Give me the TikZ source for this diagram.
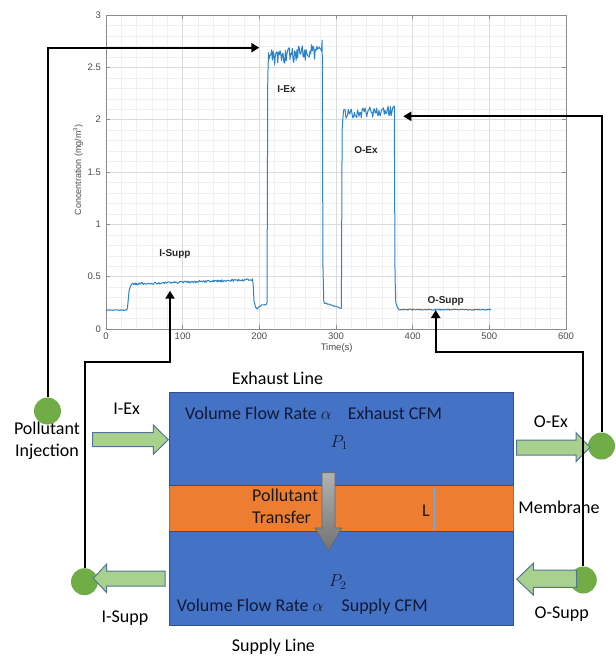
\documentclass[tikz,border=0pt]{standalone}
\usepackage{fontspec}
\setmainfont{Carlito}
\newfontfamily\plotfont{Liberation Sans}
\usetikzlibrary{arrows.meta}
\definecolor{boxblue}{RGB}{68,114,196}
\definecolor{boxblueedge}{RGB}{47,82,143}
\definecolor{memorange}{RGB}{237,125,49}
\definecolor{memedge}{RGB}{200,100,40}
\definecolor{garrowfill}{RGB}{169,209,142}
\definecolor{garrowedge}{RGB}{84,118,150}
\definecolor{dotgreen}{RGB}{112,173,71}
\definecolor{curveblue}{RGB}{45,130,200}
\definecolor{navytext}{RGB}{16,26,56}
\definecolor{lblue}{RGB}{120,170,225}
\begin{document}
\begin{tikzpicture}[x=1pt,y=-1pt,
  lbl/.style={font=\fontsize{18}{22}\selectfont, inner sep=0pt},
  inlbl/.style={lbl, text=navytext},
  conn/.style={line width=2pt, -{Triangle[length=8pt,width=9pt]}},
  dot/.style={circle, fill=dotgreen, minimum size=27pt, inner sep=0pt},
  garrow/.style={fill=garrowfill, draw=garrowedge, line width=1pt},
  minorgrid/.style={draw=black!6, line width=0.4pt},
  majorgrid/.style={draw=black!14, line width=0.5pt},
  axisframe/.style={draw=black!45, line width=0.6pt},
  ticklbl/.style={font=\plotfont\fontsize{9.5}{11}\selectfont, text=black!70, inner sep=0pt},
  peaklbl/.style={font=\plotfont\bfseries\fontsize{10}{12}\selectfont, text=black!85, inner sep=0pt},
  curve/.style={draw=curveblue, line width=1pt, line join=round},
  Larrow/.style={draw=lblue, line width=0.8pt, {Stealth[length=4pt,width=4pt]}-{Stealth[length=4pt,width=4pt]}}
]
\useasboundingbox (0,0) rectangle (616,657);
\fill[white] (0,0) rectangle (616,657);

% ---------------- plot ----------------
\pgfmathsetseed{7}
\begin{scope}[shift={(106,329)}, x=0.76667pt, y=104.67pt]
  \foreach \t in {20,40,...,580} \draw[minorgrid] (\t,0) -- (\t,3);
  \foreach \v in {1,...,29} \draw[minorgrid] (0,\v/10) -- (600,\v/10);
  \foreach \t in {100,200,...,500} \draw[majorgrid] (\t,0) -- (\t,3);
  \foreach \v in {0.5,1,1.5,2,2.5} \draw[majorgrid] (0,\v) -- (600,\v);
  \foreach \t in {100,200,...,500} {
    \draw[axisframe] (\t,0) -- ([yshift=4pt]\t,0);
    \draw[axisframe] (\t,3) -- ([yshift=-4pt]\t,3);
  }
  \foreach \v in {0.5,1,1.5,2,2.5} {
    \draw[axisframe] (0,\v) -- ([xshift=4pt]0,\v);
    \draw[axisframe] (600,\v) -- ([xshift=-4pt]600,\v);
  }
  \draw[axisframe] (0,0) rectangle (600,3);
  \foreach \v/\s [count=\i] in {0/0,0.5/0.5,1/1,1.5/1.5,2/2,2.5/2.5,3/3}
    \node[ticklbl, anchor=east] (ytick\i) at ([xshift=-5pt]0,\v) {\s};
  \foreach \t [count=\i] in {0,100,...,600}
    \node[ticklbl, anchor=north] (xtick\i) at ([yshift=-4pt]\t,0) {\t};
  \node[ticklbl] (xlabel) at ([yshift=-19pt]300.9,0) {Time(s)};
  \node[ticklbl, rotate=90, font=\plotfont\fontsize{9}{10}\selectfont] (ylabel) at ([xshift=-28pt]0,1.52) {Concentration (mg/m\textsuperscript{3})};

  \draw[curve] plot[domain=0:27,samples=28] (\x,{0.18+0.004*rand})
    -- (28,0.2) -- (30,0.36) -- (32,0.41)
    -- plot[domain=34:190,samples=157] (\x,{0.43+0.04*(\x-34)/156+0.01*rand})
    -- (191,0.48) -- (192,0.42) -- (193,0.27) -- (195,0.21) -- (197,0.19) -- (199,0.21) -- (202,0.22)
    -- plot[domain=203:209,samples=7] (\x,{0.23+0.004*rand})
    -- (210,0.25) -- (211,2.4) -- (212,2.64)
    -- plot[domain=213:281,samples=69] (\x,{2.59+0.07*(\x-213)/68+0.08*rand})
    -- (282,2.76) -- (283,0.6) -- (284,0.27)
    -- plot[domain=285:306,samples=22] (\x,{0.25-0.05*(\x-285)/21+0.006*rand})
    -- (307,0.2) -- (308,1.9) -- (309,2.02)
    -- plot[domain=310:375,samples=66] (\x,{2.05+0.04*(\x-310)/65+0.05*rand})
    -- (376,2.13) -- (377,0.5) -- (378,0.25) -- (380,0.21)
    -- plot[domain=382:502,samples=121] (\x,{0.185+0.005*rand});

  \node[peaklbl] (pIEx) at (235.4,2.29) {I-Ex};
  \node[peaklbl] (pOEx) at (339.1,1.71) {O-Ex};
  \node[peaklbl] (pISupp) at (90,0.714) {I-Supp};
  \node[peaklbl] (pOSupp) at (443.1,0.268) {O-Supp};
\end{scope}

% ---------------- duct diagram ----------------
\filldraw[fill=memorange, draw=memedge, line width=0.6pt] (169,485.7) rectangle (513,531.7);
\filldraw[fill=boxblue, draw=boxblueedge, line width=0.8pt] (169,392.7) rectangle (513,485.7);
\filldraw[fill=boxblue, draw=boxblueedge, line width=0.8pt] (169,531.7) rectangle (513,625);

\shade[top color=black!30, bottom color=black!55, draw=black!60, line width=0.6pt]
  (322,472.7) -- (335,472.7) -- (335,528) -- (341.7,528) -- (328.5,550.7) -- (315,528) -- (322,528) -- cycle;

\coordinate (Ltop) at (434.3,487.5);
\coordinate (Lbot) at (434.3,530.5);
\draw[Larrow] (Ltop) -- (Lbot);

\node[lbl, anchor=base west] (exhline) at (231.7,384) {Exhaust Line};
\node[lbl, anchor=base west] (supline) at (231.7,651) {Supply Line};
\node[inlbl, anchor=base west] (exhflow) at (185,419.5) {Volume Flow Rate $\alpha$\hspace{16pt}Exhaust CFM};
\node[inlbl, anchor=base west] (supflow) at (176.7,611.5) {Volume Flow Rate $\alpha$\hspace{18pt}Supply CFM};
\node[inlbl, anchor=base west, font=\fontsize{17}{20}\selectfont] (p1) at (330.5,447) {$P_1$};
\node[inlbl, anchor=base west, font=\fontsize{17}{20}\selectfont] (p2) at (329,586.5) {$P_2$};
\node[lbl, text=black!90, align=left, anchor=north west] (transfer) at (252,488.5) {Pollutant\\Transfer};
\node[lbl, text=black!90, anchor=base] (Llbl) at (426,516.7) {L};
\node[lbl, anchor=base] (membrane) at (559,513.3) {Membrane};

\node[lbl, anchor=base] (iexlbl) at (126.7,414) {I-Ex};
\node[lbl, anchor=base] (oexlbl) at (551,427) {O-Ex};
\node[lbl, anchor=base] (isupplbl) at (125,622) {I-Supp};
\node[lbl, anchor=base] (osupplbl) at (561.7,618.3) {O-Supp};
\node[lbl, align=center] (pinjlbl) at (47,441) {Pollutant\\Injection};

% green dots
\node[dot] (pinj) at (47.5,411) {};
\node[dot] (oexdot) at (601.5,446) {};
\node[dot] (isdot) at (84.5,581.7) {};
\node[dot] (osdot) at (583.3,580) {};

% block arrows
\draw[garrow] (92.7,432.7) -- (153.3,432.7) -- (153.3,425) -- (168.3,439.7) -- (153.3,454.3) -- (153.3,446.7) -- (92.7,446.7) -- cycle;
\draw[garrow] (516.7,440) -- (576,440) -- (576,432.7) -- (590,447.2) -- (576,461.7) -- (576,455) -- (516.7,455) -- cycle;
\draw[garrow] (165,571) -- (106.7,571) -- (106.7,564) -- (93.3,578.3) -- (106.7,592.7) -- (106.7,586) -- (165,586) -- cycle;
\draw[garrow] (576.7,570) -- (533.3,570) -- (533.3,563.3) -- (516.7,579.2) -- (533.3,595) -- (533.3,587.3) -- (576.7,587.3) -- cycle;

% connectors
\coordinate (iexTip) at (259.3,47.7);
\coordinate (oexTip) at (403.3,116.3);
\coordinate (osCorner) at (435.7,352.3);
\coordinate (osTip) at (435.7,310);
\coordinate (isCorner) at (170,362);
\coordinate (isTip) at (170,290.7);
\draw[conn] (pinj.north) |- (iexTip);
\draw[conn] (oexdot.north) |- (oexTip);
\draw[conn] (osdot.north) |- (osCorner) -- (osTip);
\draw[conn] (isdot.north) |- (isCorner) -- (isTip);
\end{tikzpicture}
\end{document}
